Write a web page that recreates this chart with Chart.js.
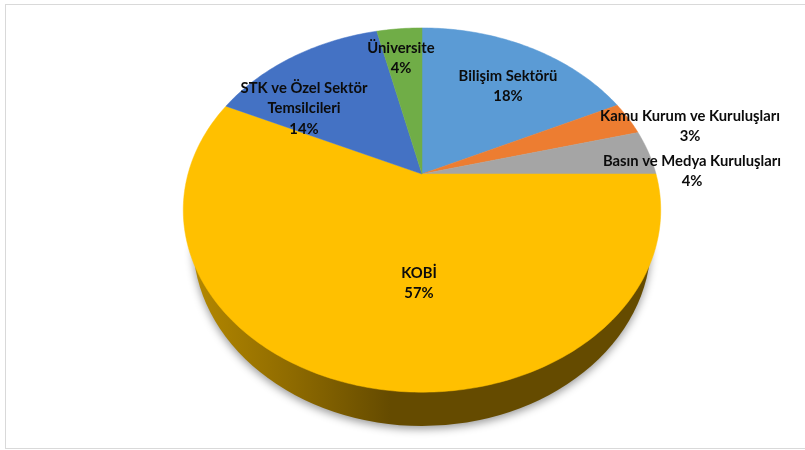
<!DOCTYPE html>
<html>
<head>
<meta charset="utf-8">
<style>
  html, body { margin: 0; padding: 0; background: #fff; overflow: hidden; }
  canvas { display: block; }
</style>
<script src="https://cdn.jsdelivr.net/npm/chart.js@4"></script>
</head>
<body>
<canvas id="pieChart" width="805" height="450"></canvas>
<script>
const categories = ['Bilişim Sektörü', 'Kamu Kurum ve Kuruluşları', 'Basın ve Medya Kuruluşları', 'KOBİ', 'STK ve Özel Sektör\nTemsilcileri', 'Üniversite'];
// shares read from the slice edges, the labels show them rounded
const shares = [18, 3, 4, 56.9, 14.4, 3.7];
const sliceColors = ['#5B9BD5', '#ED7D31', '#A5A5A5', '#FFC000', '#4472C4', '#70AD47'];
// first-line centre of each label
const labelAnchors = [[508, 76], [690, 116], [692, 161], [419, 273], [304, 88], [401, 48]];

// the pie is tilted with perspective, so the apex sits above the middle of the ellipse
const apexX = 422, apexY = 174, radiusX = 234, radiusY = 175, tilt = 0.198;

function project(angle) {
    const theta = angle + Math.PI / 2; // chart.js counts from 3 o'clock
    const w = 1 + tilt * Math.cos(theta);
    return [apexX + radiusX * Math.sin(theta) / w, apexY - radiusY * Math.cos(theta) / w];
}

const tiltedPie = {
    id: 'tiltedPie',
    beforeDraw(chart) {
        const ctx = chart.ctx;
        ctx.save();
        ctx.strokeStyle = '#d9d9d9';
        ctx.lineWidth = 1;
        ctx.strokeRect(5.5, 4.5, 815, 444);
        ctx.restore();
    },
    beforeDatasetDraw(chart, args) {
        const ctx = chart.ctx;
        const arcs = chart.getDatasetMeta(args.index).data;

        // side wall, only the KOBİ slice faces the viewer
        const wall = ctx.createLinearGradient(190, 0, 390, 0);
        wall.addColorStop(0, '#b58900');
        wall.addColorStop(0.5, '#8f6b00');
        wall.addColorStop(1, '#654b00');
        ctx.save();
        ctx.shadowColor = 'rgba(0,0,0,0.4)';
        ctx.shadowBlur = 9;
        ctx.shadowOffsetY = 3;
        ctx.fillStyle = wall;
        ctx.beginPath();
        ctx.ellipse(422, 242, 229, 184, 0, 0, Math.PI);
        ctx.fill();
        ctx.restore();

        arcs.forEach((arc, i) => {
            ctx.beginPath();
            ctx.moveTo(apexX, apexY);
            const steps = Math.ceil((arc.endAngle - arc.startAngle) * 60);
            for (let s = 0; s <= steps; s++) {
                const p = project(arc.startAngle + (arc.endAngle - arc.startAngle) * s / steps);
                ctx.lineTo(p[0], p[1]);
            }
            ctx.closePath();
            ctx.fillStyle = sliceColors[i];
            ctx.strokeStyle = sliceColors[i];
            ctx.lineWidth = 0.5;
            ctx.fill();
            ctx.stroke();
        });

        // labels
        ctx.save();
        ctx.fillStyle = '#0c0c0c';
        ctx.font = 'bold 14.8px Lato, sans-serif';
        ctx.textAlign = 'center';
        ctx.textBaseline = 'middle';
        categories.forEach((name, i) => {
            const lines = name.split('\n').concat(Math.round(shares[i]) + '%');
            lines.forEach((line, n) => {
                ctx.fillText(line, labelAnchors[i][0], labelAnchors[i][1] + n * 20.5);
            });
        });
        ctx.restore();
        return false;
    }
};

new Chart(document.getElementById('pieChart').getContext('2d'), {
    type: 'pie',
    data: {
        labels: categories,
        datasets: [{ data: shares, backgroundColor: sliceColors, borderWidth: 0 }]
    },
    plugins: [tiltedPie],
    options: {
        responsive: false,
        animation: false,
        plugins: {
            legend: { display: false },
            tooltip: { enabled: false }
        }
    }
});
</script>
</body>
</html>
